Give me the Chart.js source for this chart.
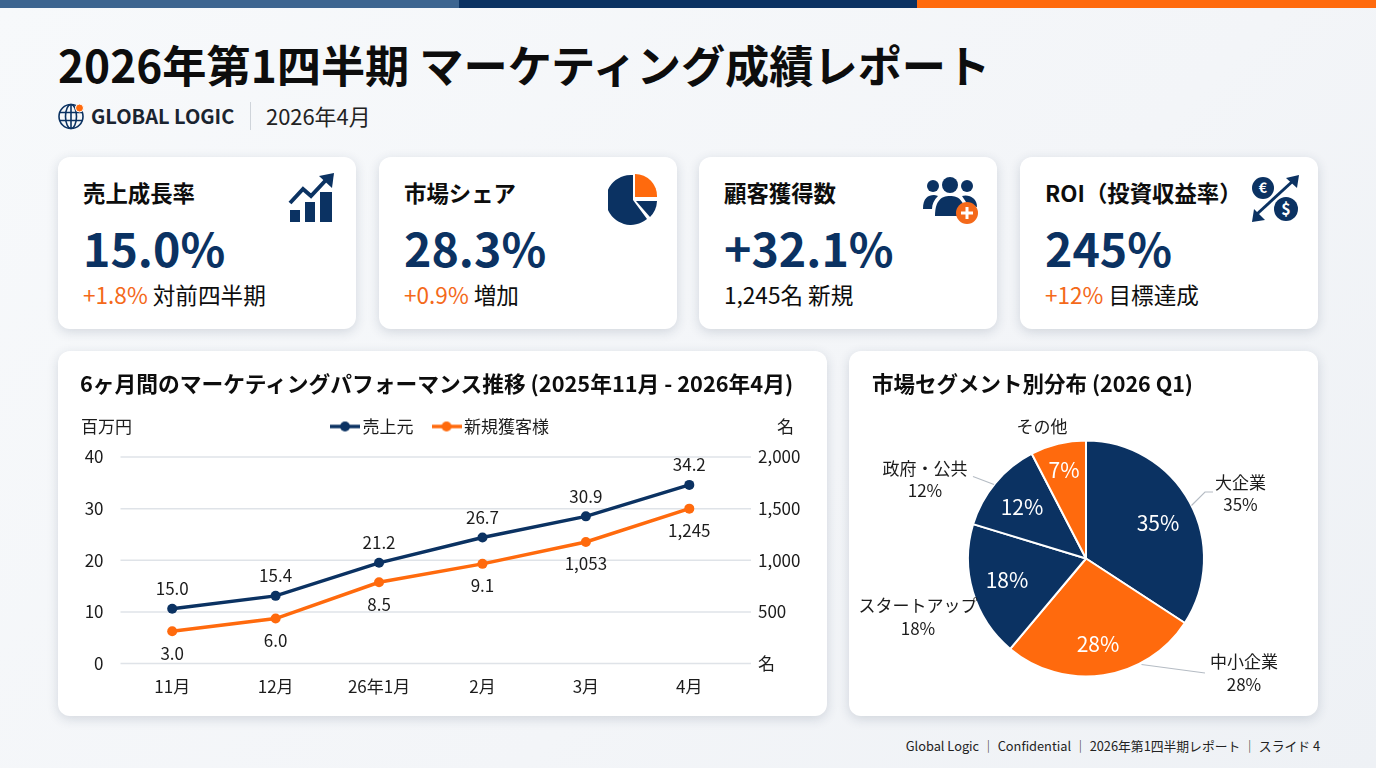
<!DOCTYPE html>
<html lang="ja">
<head>
<meta charset="utf-8">
<title>2026年第1四半期 マーケティング成績レポート</title>
<script src="https://cdn.jsdelivr.net/npm/chart.js@4"></script>
<style>
  * { box-sizing: border-box; margin: 0; padding: 0; }
  html, body { width: 1376px; height: 768px; overflow: hidden; }
  body {
    position: relative;
    font-family: "Noto Sans CJK JP", "Noto Sans", sans-serif;
    color: #0d0d0d;
    background: linear-gradient(135deg, #f7f9fb 0%, #f3f5f8 60%, #eef1f5 100%);
  }
  .abs { position: absolute; white-space: nowrap; }
  .bar { position: absolute; top: 0; height: 8px; }
  .card {
    position: absolute; background: #fff; border-radius: 12px;
    box-shadow: 0 3px 12px rgba(30, 50, 80, .16);
  }
  .kpi { top: 157px; width: 298px; height: 172px; }
  .kpi .name { position: absolute; left: 25px; top: 18px; line-height: 34px; font-size: 22.4px; font-weight: 700; white-space: nowrap; }
  .kpi .num { position: absolute; left: 25px; top: 55px; line-height: 70px; font-size: 46.5px; font-weight: 700; color: #0b3262; white-space: nowrap; }
  .kpi .sub { position: absolute; left: 25px; top: 120px; line-height: 36px; font-size: 22.6px; white-space: nowrap; }
  .kpi .sub b { font-weight: 400; color: #f4691a; }
  .kpi svg { position: absolute; }
  .panel { top: 351px; height: 365px; }
  .panel h2 { position: absolute; top: 14px; line-height: 36px; font-weight: 700; white-space: nowrap; }
  .panel canvas { position: absolute; left: 0; top: 0; }
</style>
</head>
<body>
<div class="bar" style="left:0;width:459px;background:#3d6590"></div>
<div class="bar" style="left:459px;width:458px;background:#0b3262"></div>
<div class="bar" style="left:917px;width:459px;background:#ff6a0d"></div>

<div class="abs" style="left:58px;top:31px;line-height:66px;font-size:44.2px;font-weight:700">2026年第1四半期 マーケティング成績レポート</div>

<svg class="abs" style="left:58px;top:102px" width="28" height="28" viewBox="0 0 28 28" fill="none" stroke="#0b3262" stroke-width="1.6">
  <circle cx="13" cy="14.5" r="12"/>
  <ellipse cx="13" cy="14.5" rx="5.5" ry="12"/>
  <path d="M13 2.500V26.500M1.500 10.500H24.500M1.500 18.500H24.500"/>
  <circle cx="21.500" cy="6" r="4" fill="#ff6a0d" stroke="#fff" stroke-width="1"/>
</svg>
<div class="abs" style="left:91px;top:99px;line-height:34px;font-size:20px;font-weight:700;color:#1a2430">GLOBAL LOGIC</div>
<div class="abs" style="left:250px;top:102px;width:1px;height:28px;background:#cfd4da"></div>
<div class="abs" style="left:266px;top:99px;line-height:34px;font-size:21.9px;color:#222">2026年4月</div>

<div class="card kpi" style="left:58px">
  <div class="name">売上成長率</div>
  <div class="num">15.0%</div>
  <div class="sub"><b>+1.8%</b> 対前四半期</div>
  <svg style="left:230px;top:15px" width="48" height="52" viewBox="0 0 48 52" fill="#0b3262">
    <rect x="2" y="38" width="10" height="12"/><rect x="17" y="30" width="10" height="20"/><rect x="32" y="20" width="12" height="30"/>
    <path d="M2 31 L15 17 L23 24 L38 8" fill="none" stroke="#0b3262" stroke-width="4"/>
    <path d="M31 4 L46 1 L44 16 Z"/>
  </svg>
</div>
<div class="card kpi" style="left:379px">
  <div class="name">市場シェア</div>
  <div class="num">28.3%</div>
  <div class="sub"><b>+0.9%</b> 増加</div>
  <svg style="left:229px;top:16px" width="50" height="52" viewBox="0 0 50 52">
    <path d="M25 2 V27 L39 46 A25 25 0 1 1 25 2 Z" fill="#0b3262"/>
    <path d="M28 28 H49 A24 24 0 0 1 42 44 Z" fill="#0b3262"/>
    <path d="M27 1 A22 22 0 0 1 49 24 H27 Z" fill="#ff6a0d"/>
  </svg>
</div>
<div class="card kpi" style="left:699px">
  <div class="name">顧客獲得数</div>
  <div class="num">+32.1%</div>
  <div class="sub">1,245名 新規</div>
  <svg style="left:223px;top:20px" width="58" height="48" viewBox="0 0 58 48" fill="#0b3262">
    <circle cx="11" cy="9" r="6"/><circle cx="28" cy="8" r="8"/><circle cx="45" cy="9" r="6"/>
    <path d="M1 32 C1 21 6 18 12 18 C14 18 15 19 16 19 C12 23 10 27 10 32 Z"/>
    <path d="M13 39 C13 24 19 19 28 19 C37 19 43 24 43 39 Z"/>
    <path d="M40 19 C47 17 55 21 55 30 L46 28 Z"/>
    <circle cx="45" cy="36" r="11" fill="#f4691a"/>
    <path d="M45 30 V42 M39 36 H51" stroke="#fff" stroke-width="3"/>
  </svg>
</div>
<div class="card kpi" style="left:1020px">
  <div class="name">ROI（投資収益率）</div>
  <div class="num">245%</div>
  <div class="sub"><b>+12%</b> 目標達成</div>
  <svg style="left:231px;top:17px" width="50" height="50" viewBox="0 0 50 50" fill="#0b3262">
    <circle cx="12" cy="14" r="11"/><circle cx="35" cy="35" r="12"/>
    <path d="M6 40 L43 6" stroke="#0b3262" stroke-width="3"/>
    <path d="M1 48 L3 35 L14 46 Z"/><path d="M48 1 L46 14 L35 4 Z"/>
    <text x="12" y="19" text-anchor="middle" font-size="14" font-weight="700" fill="#fff" stroke="none">€</text>
    <text x="35" y="41" text-anchor="middle" font-size="16" font-weight="700" fill="#fff" stroke="none">$</text>
  </svg>
</div>

<div class="card panel" style="left:58px;width:769px">
  <canvas id="lineChart" width="769" height="365"></canvas>
  <h2 style="left:22px;font-size:21.75px">6ヶ月間のマーケティングパフォーマンス推移 (2025年11月 - 2026年4月)</h2>
</div>
<div class="card panel" style="left:849px;width:469px">
  <canvas id="pieChart" width="469" height="365"></canvas>
  <h2 style="left:23px;font-size:21.5px">市場セグメント別分布 (2026 Q1)</h2>
</div>

<div class="abs" style="right:56px;top:736px;line-height:20px;font-size:12.8px;color:#222">Global Logic ｜ Confidential ｜ 2026年第1四半期レポート ｜ スライド 4</div>

<script>
// line chart data
const months = ["11月", "12月", "26年1月", "2月", "3月", "4月"];
const revenue = [10.6, 13.1, 19.5, 24.4, 28.5, 34.6];
const customers = [313, 435, 787, 965, 1177, 1500];
const revenueLabels = ["15.0", "15.4", "21.2", "26.7", "30.9", "34.2"];
const customerLabels = ["3.0", "6.0", "8.5", "9.1", "1,053", "1,245"];
const leftTicks = [0, 10, 20, 30, 40];
const rightTicks = [0, 500, 1000, 1500, 2000];

// pie data: arcs as drawn, labels as printed
const segments = ["大企業", "中小企業", "スタートアップ", "政府・公共", "その他"];
const segmentArcs = [34.2, 26.9, 18.6, 12.7, 7.6];
const segmentLabels = ["35%", "28%", "18%", "12%", "7%"];

const NAVY = "#0b3262";
const ORANGE = "#ff6a0d";
const FONT = '"Noto Sans CJK JP", "Noto Sans", sans-serif';

Chart.defaults.font.family = FONT;
Chart.defaults.font.size = 17;
Chart.defaults.color = "#1c1c1c";
Chart.defaults.animation = false;

// little line + dot for the legend
function legendMark(color) {
  const c = document.createElement("canvas");
  c.width = 30; c.height = 12;
  const g = c.getContext("2d");
  g.strokeStyle = color; g.fillStyle = color; g.lineWidth = 3.5;
  g.beginPath(); g.moveTo(0, 6); g.lineTo(30, 6); g.stroke();
  g.beginPath(); g.arc(15, 6, 5, 0, Math.PI * 2); g.fill();
  return c;
}

// keep a gap between the legend and the plot
const legendGapPlugin = {
  id: "legendGap",
  beforeInit(chart) {
    const fit = chart.legend.fit;
    chart.legend.fit = function () {
      fit.call(this);
      this.height += 12;
    };
  }
};

// grid runs a bit past the last category, as in the original
const gridPlugin = {
  id: "grid",
  beforeDatasetsDraw(chart) {
    const ctx = chart.ctx, a = chart.chartArea, y = chart.scales.y;
    ctx.save();
    ctx.strokeStyle = "#dfe3e8";
    ctx.lineWidth = 1.5;
    leftTicks.forEach(t => {
      const py = y.getPixelForValue(t);
      ctx.beginPath(); ctx.moveTo(a.left, py); ctx.lineTo(a.right + 10, py); ctx.stroke();
    });
    ctx.restore();
  }
};

const pointLabelPlugin = {
  id: "pointLabels",
  afterDatasetsDraw(chart) {
    const ctx = chart.ctx;
    ctx.save();
    ctx.font = "17px " + FONT;
    ctx.fillStyle = "#1c1c1c";
    ctx.textAlign = "center";
    ctx.textBaseline = "middle";
    chart.getDatasetMeta(0).data.forEach((p, i) => ctx.fillText(revenueLabels[i], p.x, p.y - 20));
    chart.getDatasetMeta(1).data.forEach((p, i) => ctx.fillText(customerLabels[i], p.x, p.y + 22));
    // axis units
    ctx.textAlign = "left";
    ctx.fillText("百万円", 23, 76);
    ctx.fillText("名", 719, 76);
    ctx.restore();
  }
};

new Chart(document.getElementById("lineChart"), {
  type: "line",
  data: {
    labels: months,
    datasets: [
      { label: "売上元", data: revenue, yAxisID: "y", borderColor: NAVY, backgroundColor: NAVY,
        borderWidth: 3.5, pointRadius: 5, pointBorderWidth: 0, tension: 0, pointStyle: "circle" },
      { label: "新規獲客様", data: customers, yAxisID: "y2", borderColor: ORANGE, backgroundColor: ORANGE,
        borderWidth: 3.5, pointRadius: 5, pointBorderWidth: 0, tension: 0, pointStyle: "circle" }
    ]
  },
  options: {
    responsive: false,
    layout: { padding: { top: 43, bottom: 0, left: 0, right: 0 } },
    plugins: {
      tooltip: { enabled: false },
      legend: {
        labels: {
          usePointStyle: true,
          pointStyleWidth: 18,
          padding: 24,
          boxHeight: 12,
          font: { size: 17 },
          generateLabels(chart) {
            return chart.data.datasets.map((d, i) => ({
              text: d.label, datasetIndex: i, pointStyle: legendMark(d.borderColor),
              fontColor: "#1c1c1c", lineWidth: 0, strokeStyle: "transparent", fillStyle: "transparent"
            }));
          }
        }
      }
    },
    scales: {
      x: {
        offset: true,
        grid: { display: false, drawTicks: false },
        border: { display: false },
        ticks: { padding: 13, maxRotation: 0, autoSkip: false },
        afterFit(s) { s.height = 52.5; }
      },
      y: {
        min: 0, max: 40,
        grid: { display: false, drawTicks: false },
        border: { display: false },
        afterBuildTicks(s) { s.ticks = leftTicks.map(v => ({ value: v })); },
        ticks: { padding: 17 },
        afterFit(s) { s.width = 62.5; }
      },
      y2: {
        position: "right",
        min: 0, max: 2000,
        grid: { display: false, drawTicks: false },
        border: { display: false },
        afterBuildTicks(s) { s.ticks = rightTicks.map(v => ({ value: v })); },
        ticks: {
          padding: 17,
          callback: v => v === 0 ? "名" : v.toLocaleString("en-US")
        },
        afterFit(s) { s.width = 86; }
      }
    }
  },
  plugins: [legendGapPlugin, gridPlugin, pointLabelPlugin]
});

// text inside the slices, outer captions and leader lines (relative to the pie centre)
const sliceText = [[72, -35], [12, 86], [-79, 22], [-64, -51], [-22, -88]];
const captions = [
  { x: 154.5, y: -76, pct: -54, line: [[105.5, -53], [119, -66.5], [127, -66.5]] },
  { x: 158, y: 103.5, pct: 126, line: [[55.5, 106], [119, 114.5]] },
  { x: -168, y: 47, pct: 70, line: null },
  { x: -161, y: -90, pct: -68, line: [[-113, -82], [-92, -74]] },
  { x: -44, y: -132, pct: null, line: null }
];

const pieTextPlugin = {
  id: "pieText",
  afterDatasetsDraw(chart) {
    const ctx = chart.ctx;
    ctx.save();
    ctx.textAlign = "center";
    ctx.textBaseline = "middle";
    chart.getDatasetMeta(0).data.forEach((arc, i) => {
      ctx.font = "21px " + FONT;
      ctx.fillStyle = "#fff";
      ctx.fillText(segmentLabels[i], arc.x + sliceText[i][0], arc.y + sliceText[i][1]);

      const c = captions[i];
      ctx.font = "17px " + FONT;
      ctx.fillStyle = "#1c1c1c";
      ctx.fillText(segments[i], arc.x + c.x, arc.y + c.y);
      if (c.pct !== null) ctx.fillText(segmentLabels[i], arc.x + c.x, arc.y + c.pct);
      if (c.line) {
        ctx.strokeStyle = "#b5bcc4";
        ctx.lineWidth = 1.2;
        ctx.beginPath();
        c.line.forEach((p, k) => k ? ctx.lineTo(arc.x + p[0], arc.y + p[1]) : ctx.moveTo(arc.x + p[0], arc.y + p[1]));
        ctx.stroke();
      }
    });
    ctx.restore();
  }
};

new Chart(document.getElementById("pieChart"), {
  type: "pie",
  data: {
    labels: segments,
    datasets: [{
      data: segmentArcs,
      backgroundColor: [NAVY, ORANGE, NAVY, NAVY, ORANGE],
      borderColor: "#fff",
      borderWidth: 2,
      radius: 118
    }]
  },
  options: {
    responsive: false,
    layout: { padding: { top: 50, left: 5 } },
    plugins: { legend: { display: false }, tooltip: { enabled: false } }
  },
  plugins: [pieTextPlugin]
});
</script>
</body>
</html>
